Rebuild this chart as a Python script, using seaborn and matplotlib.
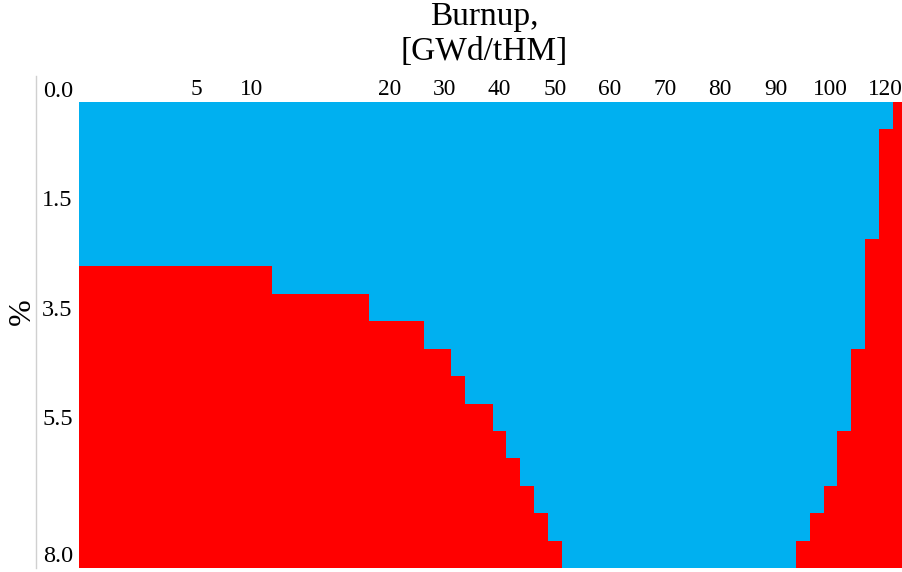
import numpy as np
import pandas as pd
import matplotlib
matplotlib.use("Agg")
import matplotlib.pyplot as plt
import seaborn as sns
from matplotlib.colors import ListedColormap
from matplotlib.lines import Line2D

# Enrichment rows (%)
enrichment = [0.0, 0.5, 1.0, 1.5, 2.0, 2.5, 3.0, 3.5, 4.0, 4.5, 5.0, 5.5,
              6.0, 6.5, 7.0, 7.5, 8.0]
# Burnup columns (GWd/tHM)
burnup = [0, 0.25, 0.5, 1, 1.5, 2, 3, 4, 5, 6.25, 7.5, 8.75, 10,
          11, 12, 13, 14, 15, 16, 17, 18, 19, 20,
          22.5, 25, 27.5, 30, 32.5, 35, 37.5, 40, 42.5, 45, 47.5, 50,
          52.5, 55, 57.5, 60, 62.5, 65, 67.5, 70, 72.5, 75, 77.5, 80,
          82.5, 85, 87.5, 90, 92.5, 95, 97.5, 100,
          105, 110, 115, 120, 125]
# Per enrichment row: first acceptable burnup (below -> red) and
# first burnup that is too high (at/above -> red)
low_limit = [0, 0, 0, 0, 0, 0, 12, 19, 27.5, 32.5, 35, 40, 42.5, 45, 47.5, 50, 52.5]
high_limit = [125, 120, 120, 120, 120, 115, 115, 115, 115, 110, 110, 110,
              105, 105, 100, 97.5, 95]
# Shown tick labels
x_tick_values = [5, 10, 20, 30, 40, 50, 60, 70, 80, 90, 100, 120]
y_tick_values = [0.0, 1.5, 3.5, 5.5, 8.0]

b = np.array(burnup, dtype=float)
rows = []
for lo, hi in zip(low_limit, high_limit):
    rows.append(((b < lo) | (b >= hi)).astype(int))
df = pd.DataFrame(rows, index=enrichment, columns=burnup)

W, H = 902, 572
fig = plt.figure(figsize=(W / 100, H / 100), dpi=100)
fig.patch.set_facecolor("white")
ax = fig.add_axes([79 / W, 4 / H, 827.4 / W, 466 / H])

cmap = ListedColormap(["#00B0F0", "#FF0000"])
sns.heatmap(df, ax=ax, cmap=cmap, vmin=0, vmax=1, cbar=False,
            xticklabels=False, yticklabels=False)

serif = ["Liberation Serif", "DejaVu Serif"]

# x ticks on top
xpos = [burnup.index(v) + 0.5 for v in x_tick_values]
ax.xaxis.tick_top()
ax.set_xticks(xpos)
ax.set_xticklabels([str(v) for v in x_tick_values], family=serif, fontsize=16.8)
ax.tick_params(axis="x", length=0, pad=1.2)

# y ticks
ypos = []
for v in y_tick_values:
    i = enrichment.index(v)
    ypos.append(0 if i == 0 else i + 0.5)
ax.set_yticks(ypos)
ylabels = ax.set_yticklabels([f"{v:.1f}" for v in y_tick_values], family=serif,
                             fontsize=17.5, rotation=0)
ylabels[0].set_va("bottom")
for t in ylabels[1:]:
    t.set_va("center_baseline")
ax.tick_params(axis="y", length=0, pad=4.5)
ax.set_xlabel("")
ax.set_ylabel("")
for s in ax.spines.values():
    s.set_visible(False)

# offset left axis line
fig.add_artist(Line2D([35.5 / W, 35.5 / W], [1 - 76 / H, 1 - 568 / H],
                      transform=fig.transFigure, color="#d0d0d0", lw=1))

# axis titles
fig.text(484 / W, 1 - 2 / H, "Burnup,\n[GWd/tHM]", ha="center", va="top",
         family=serif, fontsize=24, linespacing=1.15)
fig.text(22 / W, 1 - 312 / H, "%", ha="center", va="center", rotation=90,
         family=serif, fontsize=23)

fig.savefig("out.png", dpi=100, facecolor="white")
